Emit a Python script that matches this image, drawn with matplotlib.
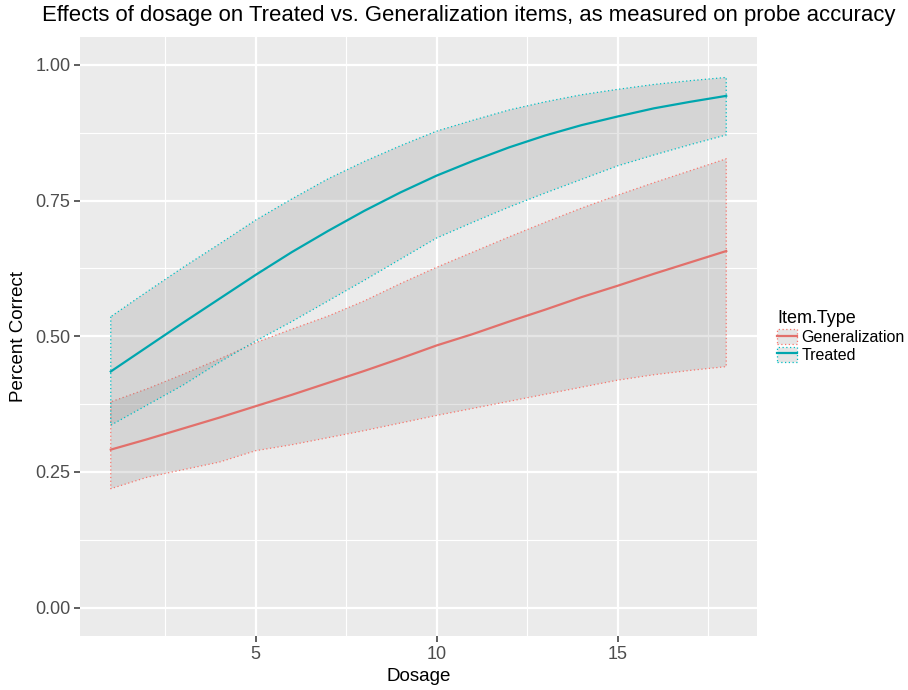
import matplotlib
matplotlib.use("Agg")
import matplotlib.pyplot as plt
from matplotlib.patches import Patch
from matplotlib.lines import Line2D
from matplotlib.ticker import MultipleLocator

### Data ###

dosage = list(range(1, 19))

# Treated items: fitted line and confidence band
treated_fit = [0.435, 0.480, 0.525, 0.569, 0.613, 0.655, 0.694, 0.731, 0.765,
               0.796, 0.823, 0.848, 0.870, 0.889, 0.905, 0.920, 0.932, 0.943]
treated_hi = [0.536, 0.582, 0.627, 0.670, 0.714, 0.753, 0.790, 0.822, 0.851,
              0.878, 0.898, 0.917, 0.932, 0.945, 0.955, 0.964, 0.971, 0.977]
treated_lo = [0.336, 0.373, 0.410, 0.452, 0.491, 0.527, 0.565, 0.603, 0.642,
              0.681, 0.710, 0.738, 0.764, 0.789, 0.814, 0.834, 0.853, 0.871]

# Generalization items: fitted line and confidence band
general_fit = [0.291, 0.310, 0.330, 0.350, 0.371, 0.392, 0.414, 0.436, 0.459,
               0.483, 0.504, 0.527, 0.549, 0.572, 0.593, 0.615, 0.636, 0.657]
general_hi = [0.379, 0.403, 0.430, 0.458, 0.488, 0.513, 0.537, 0.565, 0.597,
              0.627, 0.655, 0.683, 0.710, 0.736, 0.760, 0.783, 0.805, 0.827]
general_lo = [0.219, 0.240, 0.254, 0.268, 0.289, 0.300, 0.313, 0.326, 0.340,
              0.354, 0.367, 0.380, 0.393, 0.406, 0.419, 0.429, 0.437, 0.444]

y_ticks = [0.00, 0.25, 0.50, 0.75, 1.00]
x_ticks = [5, 10, 15]

### Styles ###

plt.rcParams['font.family'] = ['Liberation Sans', 'DejaVu Sans']

red_edge = '#F8766D'
teal_edge = '#00BFC4'
red_line = '#E2706B'
teal_line = '#00A6AE'
band_fill = (0.5, 0.5, 0.5, 0.2)
panel_bg = '#EBEBEB'
tick_grey = '#4D4D4D'

fig = plt.figure(figsize=(9.08, 6.9), dpi=100)
ax = fig.add_axes([80 / 908, 1 - 636 / 690, (757 - 80) / 908, (636 - 37) / 690])
ax.set_facecolor(panel_bg)

# Confidence bands with dotted outlines
ax.fill_between(dosage, general_lo, general_hi, facecolor=band_fill,
                edgecolor=red_edge, linestyle=(0, (1, 2)), linewidth=0.9, zorder=3)
ax.fill_between(dosage, treated_lo, treated_hi, facecolor=band_fill,
                edgecolor=teal_edge, linestyle=(0, (1, 2)), linewidth=0.9, zorder=3)

# Fitted lines
ax.plot(dosage, general_fit, color=red_line, linewidth=1.6, zorder=4)
ax.plot(dosage, treated_fit, color=teal_line, linewidth=1.6, zorder=4)

# Axes limits (ggplot-style expansion)
ax.set_xlim(0.15, 18.85)
ax.set_ylim(-0.0525, 1.0515)

# Grid
ax.set_xticks(x_ticks)
ax.set_yticks(y_ticks)
ax.xaxis.set_minor_locator(MultipleLocator(2.5))
ax.yaxis.set_minor_locator(MultipleLocator(0.125))
ax.grid(which='major', color='white', linewidth=1.6, zorder=0)
ax.grid(which='minor', color='white', linewidth=0.8, zorder=0)
ax.set_axisbelow(True)
ax.tick_params(which='minor', length=0)
ax.tick_params(which='major', length=4, width=1.1, color='#333333',
               labelcolor=tick_grey, labelsize=13, pad=3)
ax.set_yticklabels(['{:.2f}'.format(v) for v in y_ticks])
for spine in ax.spines.values():
    spine.set_visible(False)

# Labels and title
ax.set_xlabel('Dosage', fontsize=13.5, labelpad=4)
ax.set_ylabel('Percent Correct', fontsize=13.5, labelpad=6)
fig.text(42 / 908, 1 - 15 / 690, 'Effects of dosage on Treated vs. Generalization items, '
         'as measured on probe accuracy', fontsize=15.9, ha='left', va='center')

# Legend: grey key with dotted outline plus line
handles = []
for edge, line in [(red_edge, red_line), (teal_edge, teal_line)]:
    box = Patch(facecolor=band_fill, edgecolor=edge, linestyle=(0, (1, 2)), linewidth=0.9)
    ln = Line2D([], [], color=line, linewidth=1.6)
    handles.append((box, ln))
leg = fig.legend(handles, ['Generalization', 'Treated'], title='Item.Type',
                 loc='upper left', bbox_to_anchor=(771 / 908, 1 - 304 / 690),
                 frameon=False, fontsize=11.5, title_fontsize=13,
                 handlelength=1.2, handleheight=1.1, handletextpad=0.3,
                 labelspacing=0.1, borderaxespad=0)
leg._legend_box.align = 'left'

fig.savefig('out.png', dpi=100)
